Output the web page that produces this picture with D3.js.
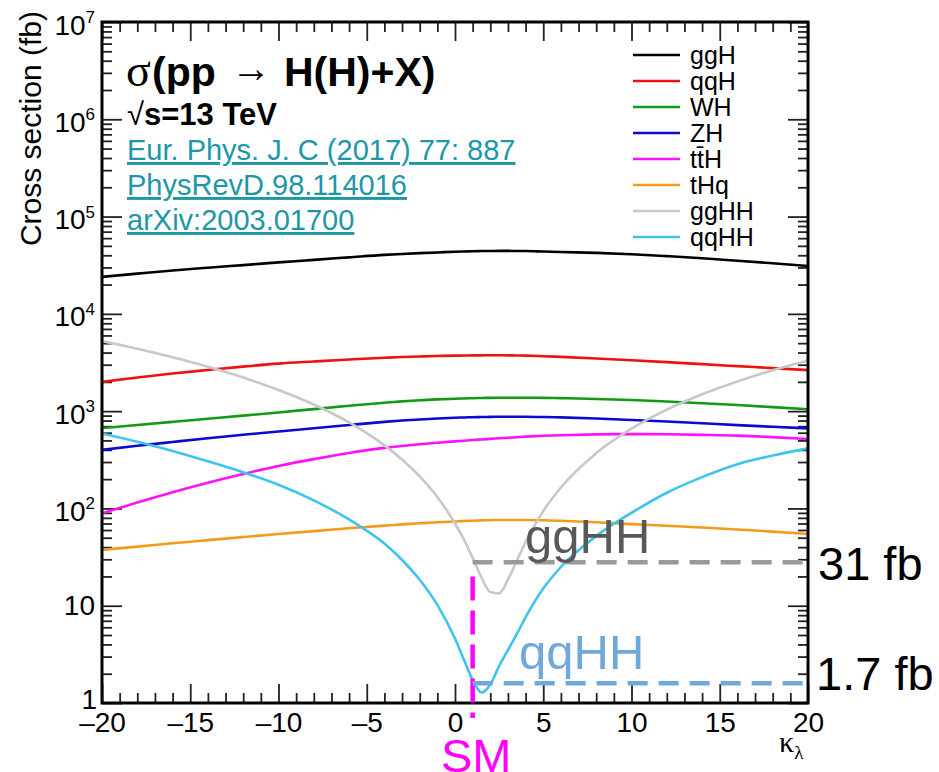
<!DOCTYPE html>
<html>
<head>
<meta charset="utf-8">
<script src="https://cdn.jsdelivr.net/npm/d3@7"></script>
<style>
body { margin: 0; background: #fff; }
svg { display: block; font-family: "Liberation Sans", Arial, Helvetica, sans-serif; }
</style>
</head>
<body>
<div id="chart"></div>
<script>
// valores de kappa_lambda (eje x)
var kappa = [-20,-18,-16,-14,-12,-10,-8,-6,-4,-3,-2,-1,0,0.5,1,1.5,2,2.5,3,3.5,4,5,6,8,10,12,14,16,18,20];

// secciones eficaces (fb)
var ggH  = [24000,25900,27900,29800,31700,33800,35900,38100,40400,41300,42100,42800,43500,43800,44000,44200,44300,44400,44400,44300,44200,43700,43200,42300,41000,39200,37300,35200,33100,31000];
var qqH  = [2000,2220,2440,2650,2870,3080,3240,3400,3540,3600,3650,3690,3720,3730,3740,3745,3750,3750,3745,3735,3720,3670,3610,3480,3340,3190,3040,2900,2770,2640];
var WH   = [670,720,775,835,900,970,1050,1135,1220,1260,1295,1320,1340,1350,1358,1365,1370,1373,1375,1375,1374,1370,1360,1335,1300,1255,1205,1155,1100,1045];
var ZH   = [400,440,482,527,572,618,668,720,775,800,822,840,855,861,866,870,873,875,876,876,875,870,862,840,812,782,750,718,690,665];
var ttH  = [89,115,147,184,226,273,321,372,419,439,457,474,489,497,505,512,519,526,533,540,547,558,566,577,581,578,570,560,541,517];
var tHq  = [37.5,40.5,43.8,47.2,50.8,54.6,58.5,62.5,66.5,68.5,70.3,72,73.5,74.2,74.8,75.3,75.7,76,76.1,76.1,76,75.5,74.6,72,69,66.3,63.6,60.8,57.8,54.6];
var ggHH = [5250,4380,3580,2860,2220,1650,1170,765,445,318,213,131,70,48,31,19.5,13.8,13.4,18.5,29,45,94,164,370,660,1035,1490,2020,2630,3320];
var qqHH = [590,485,390,305,235,175,121,77,43.5,29.5,18.5,10.2,4.6,2.8,1.72,1.28,1.55,2.4,3.5,5.1,7.6,15,25,52,90,145,210,285,350,415];

var seriesNames  = ["ggH","qqH","WH","ZH","tt\u0304H","tHq","ggHH","qqHH"];
var seriesValues = [ggH, qqH, WH, ZH, ttH, tHq, ggHH, qqHH];
var seriesColors = ["#000000","#f01010","#139a13","#0a0ad0","#ff10ff","#f39c1b","#c8c8c8","#3ec4ee"];

// ticks
var xMajor = [-20,-15,-10,-5,0,5,10,15,20];
var xMinor = d3.range(-19, 20).filter(function(d) { return d % 5 !== 0; });
var yMajor = [1,10,1e2,1e3,1e4,1e5,1e6,1e7];
var yMinor = [];
for (var p = 0; p < 7; p++) { for (var m = 2; m <= 9; m++) { yMinor.push(m * Math.pow(10, p)); } }

// anotaciones
var smKappa = 1;
var ggHHLine = 28, ggHHLabel = "31 fb";
var qqHHLine = 1.6, qqHHLabel = "1.7 fb";
var refs = ["Eur. Phys. J. C (2017) 77: 887", "PhysRevD.98.114016", "arXiv:2003.01700"];

var W = 939, H = 772;
var svg = d3.select("#chart").append("svg")
  .attr("width", W).attr("height", H);

var x = d3.scaleLinear().domain([-20, 20]).range([102, 808]);
var y = d3.scaleLog().domain([1, 1e7]).range([703, 22]);

//ejes con ticks hacia adentro (estilo ROOT)
function ejes(g) {
  g.select(".domain").remove();
  g.selectAll("line").attr("stroke", "#222").attr("stroke-width", 1.8);
}
svg.append("g").attr("transform", "translate(102,0)").call(d3.axisLeft(y).tickValues(yMajor).tickSize(-20).tickFormat("")).call(ejes);
svg.append("g").attr("transform", "translate(102,0)").call(d3.axisLeft(y).tickValues(yMinor).tickSize(-10).tickFormat("")).call(ejes);
svg.append("g").attr("transform", "translate(808,0)").call(d3.axisRight(y).tickValues(yMajor).tickSize(-20).tickFormat("")).call(ejes);
svg.append("g").attr("transform", "translate(808,0)").call(d3.axisRight(y).tickValues(yMinor).tickSize(-10).tickFormat("")).call(ejes);
svg.append("g").attr("transform", "translate(0,22)").call(d3.axisTop(x).tickValues(xMajor).tickSize(-19).tickFormat("")).call(ejes);
svg.append("g").attr("transform", "translate(0,22)").call(d3.axisTop(x).tickValues(xMinor).tickSize(-10).tickFormat("")).call(ejes);
svg.append("g").attr("transform", "translate(0,703)").call(d3.axisBottom(x).tickValues(xMinor).tickSize(-10).tickFormat("")).call(ejes);

var xAxis = svg.append("g").attr("transform", "translate(0,703)")
  .call(d3.axisBottom(x).tickValues(xMajor).tickSize(-19).tickPadding(9)
    .tickFormat(function(d) { return d < 0 ? "\u2013" + Math.abs(d) : d; }))
  .call(ejes);
xAxis.attr("font-family", null).attr("font-size", 28);
xAxis.selectAll("text").attr("fill", "#000");

// etiquetas del eje y
yMajor.forEach(function(v) {
  var n = Math.round(Math.log10(v));
  var t = svg.append("text").attr("text-anchor", "end").attr("font-size", 28);
  if (n >= 2) {
    t.attr("x", 95).attr("y", y(v) + 12.5);
    t.append("tspan").text("10");
    t.append("tspan").attr("font-size", 17).attr("dy", -11.5).text(n);
  } else if (n === 1) {
    t.attr("x", 95).attr("y", y(v) + 9.5).text("10");
  } else {
    t.attr("x", 97).attr("y", y(v) + 6).text("1");
  }
});

svg.append("text")
  .attr("transform", "translate(41,11) rotate(-90)")
  .attr("text-anchor", "end")
  .attr("font-size", 30)
  .text("Cross section (fb)");

var kl = svg.append("text").attr("x", 779).attr("y", 752)
  .attr("font-family", "'Liberation Serif', 'Times New Roman', serif").attr("font-size", 30);
kl.append("tspan").text("\u03ba");
kl.append("tspan").attr("font-size", 19).attr("dy", 7).text("\u03bb");

// curvas
svg.append("clipPath").attr("id", "area")
  .append("rect").attr("x", 102).attr("y", 22).attr("width", 706).attr("height", 681);

var linea = d3.line()
  .x(function(d) { return x(d[0]); })
  .y(function(d) { return y(d[1]); })
  .curve(d3.curveMonotoneX);

svg.append("g").attr("clip-path", "url(#area)")
  .selectAll("path")
  .data(seriesValues)
  .join("path")
  .attr("fill", "none")
  .attr("stroke", function(d, i) { return seriesColors[i]; })
  .attr("stroke-width", 2.6)
  .attr("d", function(vals) { return linea(kappa.map(function(k, j) { return [k, vals[j]]; })); });

// marco
svg.append("rect").attr("x", 102).attr("y", 22).attr("width", 706).attr("height", 681)
  .attr("fill", "none").attr("stroke", "#000").attr("stroke-width", 3);

// leyenda
var leg = svg.append("g").selectAll("g").data(seriesNames).join("g")
  .attr("transform", function(d, i) { return "translate(0," + (55 + 26 * i) + ")"; });
leg.append("line").attr("x1", 633).attr("x2", 680)
  .attr("stroke", function(d, i) { return seriesColors[i]; }).attr("stroke-width", 2.6);
leg.append("text").attr("x", 690).attr("y", 8.5).attr("font-size", 25).text(function(d) { return d; });

// titulo
svg.append("text").attr("x", 126).attr("y", 86)
  .attr("font-family", "'Liberation Serif', 'Times New Roman', serif").attr("font-size", 46).text("\u03c3");
svg.append("text").attr("x", 152).attr("y", 86).attr("font-size", 41).attr("font-weight", "bold").text("(pp");
svg.append("text").attr("x", 231).attr("y", 82).attr("font-size", 40).attr("font-weight", "bold").text("\u2192");
svg.append("text").attr("x", 284).attr("y", 86).attr("font-size", 41).attr("font-weight", "bold").text("H(H)+X)");

var sq = svg.append("text").attr("x", 127).attr("y", 125).attr("font-size", 31).attr("font-weight", "bold");
sq.append("tspan").attr("font-weight", "normal").text("\u221a");
sq.append("tspan").text("s=13 TeV");

svg.append("g").selectAll("text").data(refs).join("text")
  .attr("x", 127)
  .attr("y", function(d, i) { return 160 + 35 * i; })
  .attr("font-size", 29)
  .attr("fill", "#1d97a8")
  .attr("text-decoration", "underline")
  .text(function(d) { return d; });

// lineas de anotacion
svg.append("line")
  .attr("x1", x(smKappa)).attr("x2", x(smKappa))
  .attr("y1", y(20)).attr("y2", y(0.7))
  .attr("stroke", "#ff00ff").attr("stroke-width", 4.5).attr("stroke-dasharray", "24,10");

svg.append("line")
  .attr("x1", x(smKappa)).attr("x2", x(19.8))
  .attr("y1", y(ggHHLine)).attr("y2", y(ggHHLine))
  .attr("stroke", "#999999").attr("stroke-width", 4.5).attr("stroke-dasharray", "20,11");

svg.append("line")
  .attr("x1", x(smKappa)).attr("x2", x(20.2))
  .attr("y1", y(qqHHLine)).attr("y2", y(qqHHLine))
  .attr("stroke", "#6fa8dc").attr("stroke-width", 4.5).attr("stroke-dasharray", "20,11");

svg.append("text").attr("x", 525).attr("y", 553).attr("font-size", 49).attr("fill", "#595959").text("ggHH");
svg.append("text").attr("x", 519).attr("y", 669).attr("font-size", 49).attr("fill", "#6fa8dc").text("qqHH");
svg.append("text").attr("x", 818).attr("y", 580).attr("font-size", 47).attr("fill", "#000").text(ggHHLabel);
svg.append("text").attr("x", 816).attr("y", 690).attr("font-size", 47).attr("fill", "#000").text(qqHHLabel);
svg.append("text").attr("x", 441).attr("y", 772).attr("font-size", 47).attr("fill", "#ff00ff").text("SM");
</script>
</body>
</html>
